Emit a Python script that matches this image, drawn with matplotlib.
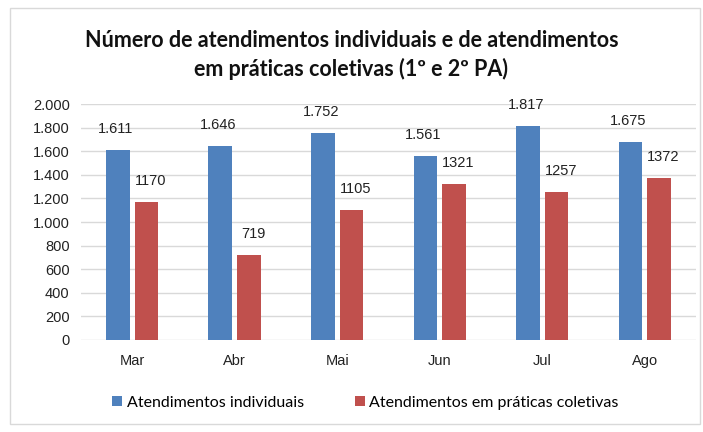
import numpy as np
import matplotlib
matplotlib.use('Agg')
import matplotlib.pyplot as plt
from matplotlib.patches import Rectangle
from matplotlib.ticker import FuncFormatter

months = ['Mar', 'Abr', 'Mai', 'Jun', 'Jul', 'Ago']
individuais = [1611, 1646, 1752, 1561, 1817, 1675]
coletivas = [1170, 719, 1105, 1321, 1257, 1372]
yticks = [0, 200, 400, 600, 800, 1000, 1200, 1400, 1600, 1800, 2000]

blue = '#4f81bd'
red = '#c0504d'

def thousands(v, pos=None):
    return f'{int(v):,}'.replace(',', '.')

fig = plt.figure(figsize=(7.03, 4.32), dpi=100)
ax = fig.add_axes([0.115, 0.213, 0.875, 0.546])

# chart frame
fig.patches.append(Rectangle((10 / 703, 8 / 432), 690 / 703, 416 / 432,
                             transform=fig.transFigure, fill=False,
                             edgecolor='#d9d9d9', linewidth=1))

x = np.arange(len(months))
w = 0.23
b1 = ax.bar(x - 0.14, individuais, w, color=blue, zorder=3)
b2 = ax.bar(x + 0.14, coletivas, w, color=red, zorder=3)

for rect, v in zip(b1, individuais):
    ax.text(rect.get_x() + rect.get_width() / 2 - 0.02, v + 120, thousands(v),
            ha='center', va='bottom', fontsize=10.5, family='Liberation Sans', color='#222222')
for rect, v in zip(b2, coletivas):
    ax.text(rect.get_x() + rect.get_width() / 2 + 0.04, v + 120, str(v),
            ha='center', va='bottom', fontsize=10.5, family='Liberation Sans', color='#222222')

ax.set_xlim(-0.5, len(months) - 0.5)
ax.set_ylim(0, 2000)
ax.set_yticks(yticks)
ax.yaxis.set_major_formatter(FuncFormatter(thousands))
ax.set_xticks(x)
ax.set_xticklabels(months)
ax.grid(axis='y', color='#d9d9d9', linewidth=1, zorder=0)
for s in ax.spines.values():
    s.set_visible(False)
ax.tick_params(length=0, labelsize=10.5, colors='#222222')
ax.tick_params(axis='x', pad=10)
ax.tick_params(axis='y', pad=8)
for lbl in ax.get_xticklabels() + ax.get_yticklabels():
    lbl.set_family('Liberation Sans')

fig.text(0.5, 0.873, 'Número de atendimentos individuais e de atendimentos\nem práticas coletivas (1º e 2º PA)',
         ha='center', va='center', fontsize=15.5, fontweight='bold', family='Lato',
         linespacing=1.35, color='#111111')

leg = fig.legend([b1, b2], ['Atendimentos individuais', 'Atendimentos em práticas coletivas'],
                 loc='center', bbox_to_anchor=(0.52, 0.067), ncol=2, frameon=False,
                 prop={'family': 'Lato', 'size': 11.5}, handlelength=0.6, handleheight=0.6,
                 handletextpad=0.3, columnspacing=3.2)

fig.savefig('out.png', dpi=100)
